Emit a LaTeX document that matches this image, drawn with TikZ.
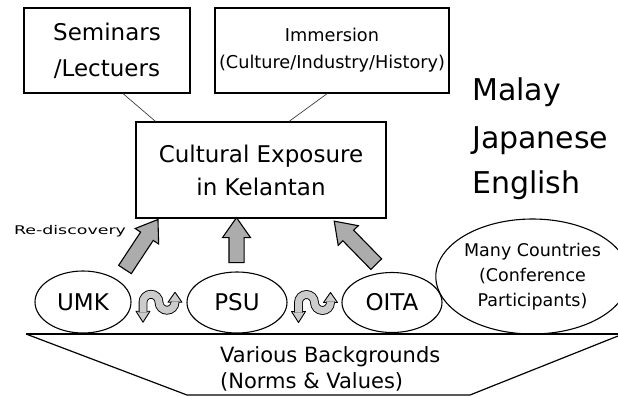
\documentclass[tikz,border=0pt]{standalone}
\usepackage{fontspec}
\setmainfont{DejaVu Sans}
\usetikzlibrary{shapes.geometric, shapes.arrows, calc}

% wavy two-way arrow between two campuses (centre of the S)
\newcommand{\swaparrow}[1]{%
  \begin{scope}[shift={#1}]
    \filldraw[swaphead] (-23,9) -- (-9,9) -- (-16,20) -- cycle;
    \filldraw[swaphead] (9,0) -- (23,0) -- (16,-10) -- cycle;
    \draw[swapband] (-16,10) -- (-16,0) arc[start angle=180, end angle=360, radius=8]
      arc[start angle=180, end angle=0, radius=8] -- (16,-1);
  \end{scope}}

% fat grey arrow from a campus up to the exposure box
\newcommand{\fatarrow}[3]{%
  \path let \p1=($#3-#2$), \n1={atan2(\y1,\x1)}, \n2={veclen(\x1,\y1)} in
    node[bigarrow, rotate=\n1, minimum height=\n2] (#1) at ($#2!0.5!#3$) {};}

\begin{document}
\begin{tikzpicture}[x=1pt, y=-1pt,
  box/.style={draw, line width=1.3pt, align=center, inner sep=0pt},
  campus/.style={draw, ellipse, line width=1.1pt, inner sep=0pt, align=center},
  link/.style={draw=black!75, line width=0.7pt},
  lang/.style={font=\fontsize{30}{30}\selectfont, inner sep=0pt, anchor=base west},
  bigarrow/.style={single arrow, draw, line width=1.1pt, fill=gray!65, inner sep=7pt,
    single arrow head extend=6.5pt, single arrow tip angle=70, outer sep=0pt},
  swaphead/.style={fill=gray!40, draw=black, line width=0.9pt, line join=round},
  swapband/.style={double=gray!40, double distance=7pt, line width=0.9pt}
]
\useasboundingbox (0,0) rectangle (618,396);
\fill[white] (0,0) rectangle (618,396);

% Top boxes
\node[box, minimum width=166, minimum height=85, font=\fontsize{23}{36}\selectfont]
  (seminar) at (107,50.5) {Seminars\\/Lectuers};
\node[box, minimum width=234, minimum height=85, font=\fontsize{17.7}{27}\selectfont]
  (immersion) at (332,50.5) {Immersion\\(Culture/Industry/History)};
\node[box, minimum width=250, minimum height=96, font=\fontsize{23}{33}\selectfont]
  (culture) at (261,170) {Cultural Exposure\\in Kelantan};

\draw[link] ($(seminar.south west)!0.596!(seminar.south east)$) -- ($(culture.north west)!0.08!(culture.north east)$);
\draw[link] ($(immersion.south west)!0.479!(immersion.south east)$) -- ($(culture.north west)!0.612!(culture.north east)$);

% Languages
\node[lang] (malay) at (472,100) {Malay};
\node[lang] (japanese) at (472,148) {Japanese};
\node[lang] (english) at (472,193) {English};

% Campuses
\node[campus, minimum width=96, minimum height=62, font=\fontsize{23}{23}\selectfont] (umk) at (83,302) {UMK};
\node[campus, minimum width=100, minimum height=61, font=\fontsize{23}{23}\selectfont] (psu) at (237,302.5) {PSU};
\node[campus, minimum width=100, minimum height=60, font=\fontsize{23}{23}\selectfont] (oita) at (392,302.5) {OITA};
\node[campus, minimum width=169, minimum height=115, font=\fontsize{17.5}{25}\selectfont, yshift=-2pt]
  (many) at (532.5,274.5) {Many Countries\\(Conference\\Participants)};

% Arrows up to the exposure box
\coordinate (umkBase) at (122,274);  \coordinate (umkTip) at (155,224);
\coordinate (psuBase) at (236.5,268); \coordinate (psuTip) at (236.5,223);
\coordinate (oitaBase) at (380,268); \coordinate (oitaTip) at (338,225);
\fatarrow{arUMK}{(umkBase)}{(umkTip)}
\fatarrow{arPSU}{(psuBase)}{(psuTip)}
\fatarrow{arOITA}{(oitaBase)}{(oitaTip)}

\node[font=\fontsize{12}{12}\selectfont, xscale=1.45] (rediscovery) at (70,231) {Re-discovery};

% Exchange between campuses
\swaparrow{($(umk.east)!0.5!(psu.west)$)}
\swaparrow{($(psu.east)!0.5!(oita.west)$)}

% Base trapezoid
\draw[line width=1.2pt, line join=round] (26,334) -- (187,395) -- (470,395) -- (618,336);
\draw[line width=2.2pt] (26,334) -- (618,334);
\node[font=\fontsize{21}{21}\selectfont, inner sep=0pt, anchor=base west] (various) at (220,362) {Various Backgrounds};
\node[font=\fontsize{21}{21}\selectfont, inner sep=0pt, anchor=base west] (norms) at (220,388) {(Norms \& Values)};

\end{tikzpicture}
\end{document}
